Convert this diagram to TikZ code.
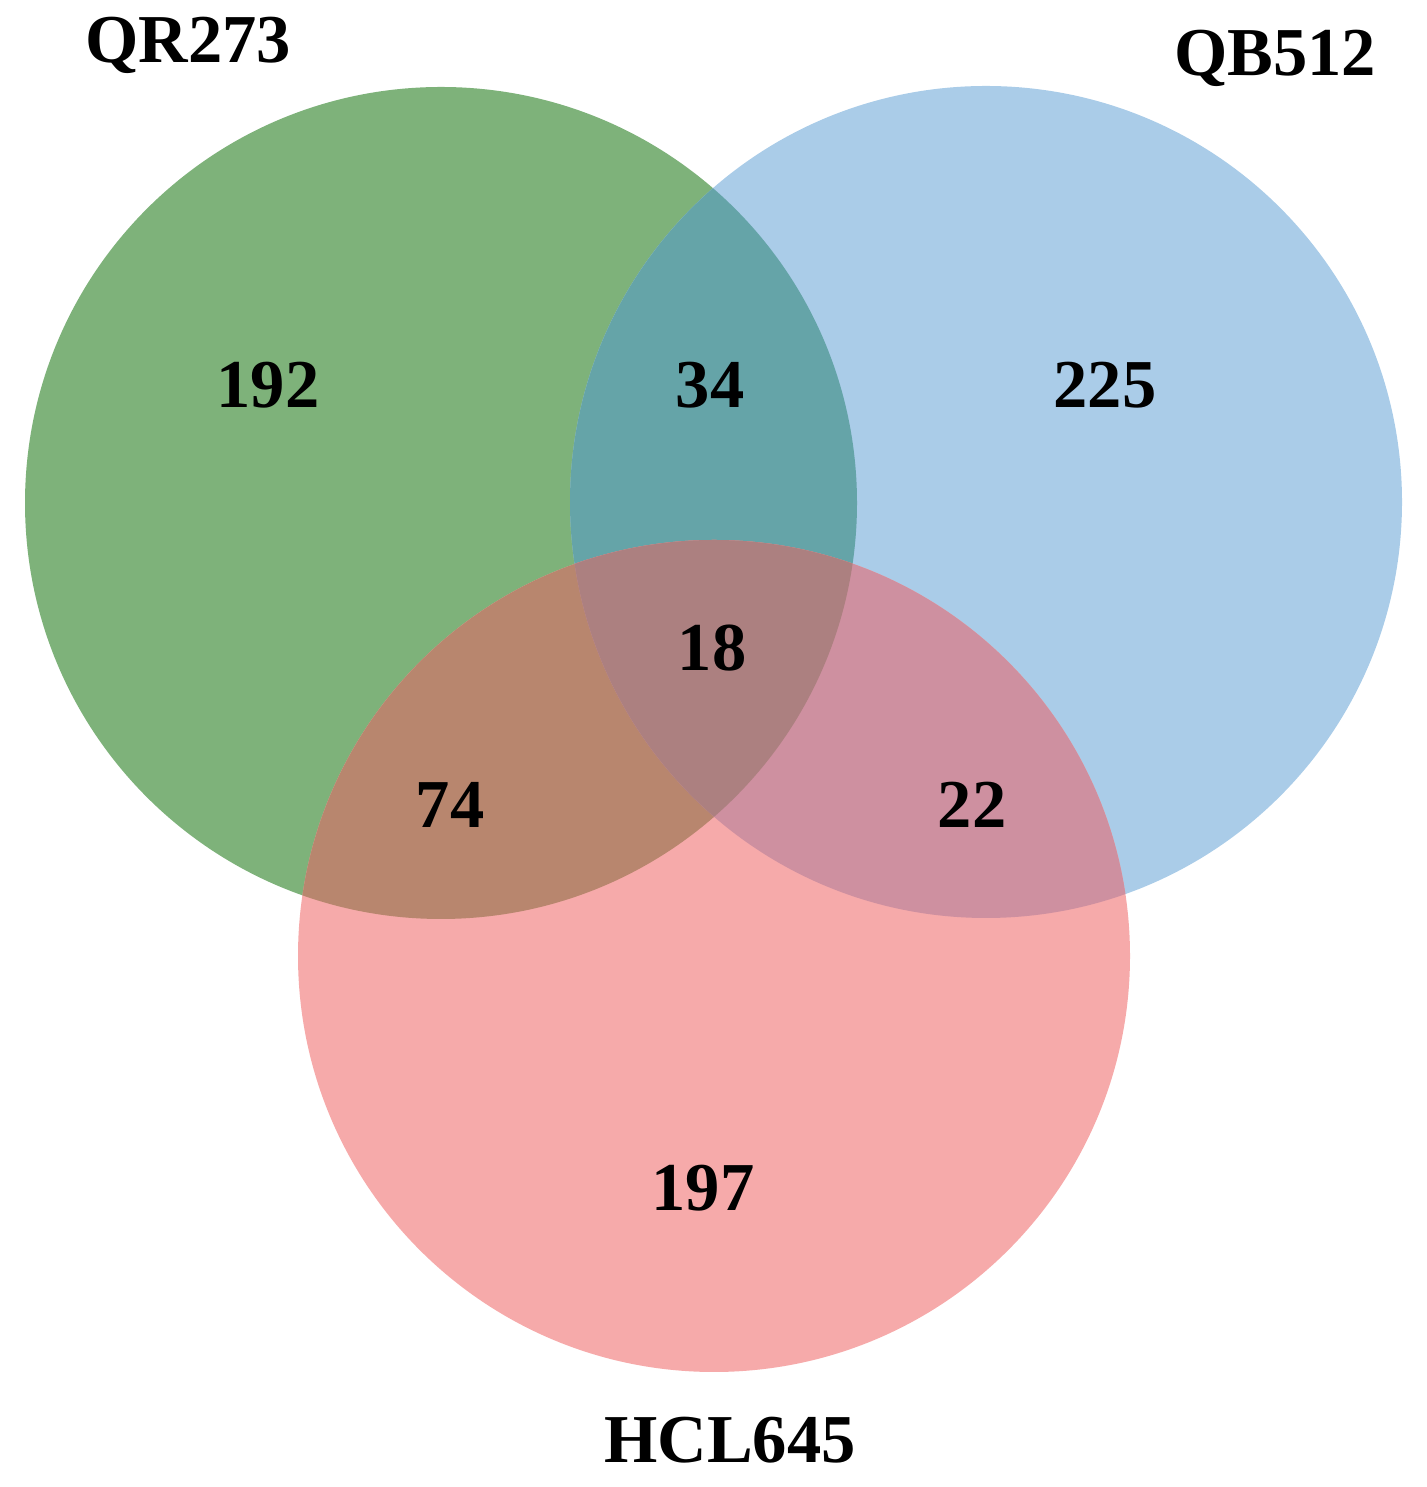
\documentclass[tikz,border=0pt]{standalone}
\usepackage{fontspec}
\setmainfont{Liberation Serif}
\usetikzlibrary{calc}

\begin{document}
\begin{tikzpicture}

% Define colors - matching the reference image
\definecolor{vgreen}{RGB}{126,178,122}
\definecolor{vblue}{RGB}{170,204,232}
\definecolor{vpink}{RGB}{246,170,170}
\definecolor{vteal}{RGB}{101,164,168}
\definecolor{vbrown}{RGB}{184,134,110}
\definecolor{vmauve}{RGB}{206,144,160}
\definecolor{vcenter}{RGB}{172,128,128}

\tikzset{
    setlabel/.style={text=black, font=\bfseries\fontsize{19.5}{22}\selectfont, inner sep=0pt},
    count/.style={text=black, font=\bfseries\fontsize{19.5}{22}\selectfont, inner sep=0pt}
}

% Page size
\useasboundingbox (0,0) rectangle (14.27,14.87);

% Circle centres
\coordinate (qr) at (4.41,9.84);
\coordinate (qb) at (9.86,9.85);
\coordinate (hcl) at (7.14,5.31);
\def\rad{4.16}

% Single sets
\fill[vgreen] (qr) circle (\rad);
\fill[vblue] (qb) circle (\rad);

% QR273 and QB512 overlap
\begin{scope}
    \clip (qr) circle (\rad);
    \fill[vteal] (qb) circle (\rad);
\end{scope}

\fill[vpink] (hcl) circle (\rad);

% QR273 and HCL645 overlap
\begin{scope}
    \clip (qr) circle (\rad);
    \fill[vbrown] (hcl) circle (\rad);
\end{scope}

% QB512 and HCL645 overlap
\begin{scope}
    \clip (qb) circle (\rad);
    \fill[vmauve] (hcl) circle (\rad);
\end{scope}

% All three
\begin{scope}
    \clip (qr) circle (\rad);
    \clip (qb) circle (\rad);
    \fill[vcenter] (hcl) circle (\rad);
\end{scope}

% Set names
\node[setlabel] (lqr) at (1.88,14.42) {QR273};
\node[setlabel] (lqb) at (12.75,14.29) {QB512};
\node[setlabel] (lhcl) at (7.30,0.47) {HCL645};

% Counts
\node[count] (n192) at (2.68,11.02) {192};
\node[count] (n34) at (7.10,11.02) {34};
\node[count] (n225) at (11.05,11.02) {225};
\node[count] (n18) at (7.12,8.39) {18};
\node[count] (n74) at (4.50,6.82) {74};
\node[count] (n22) at (9.72,6.82) {22};
\node[count] (n197) at (7.03,2.99) {197};

\end{tikzpicture}
\end{document}
